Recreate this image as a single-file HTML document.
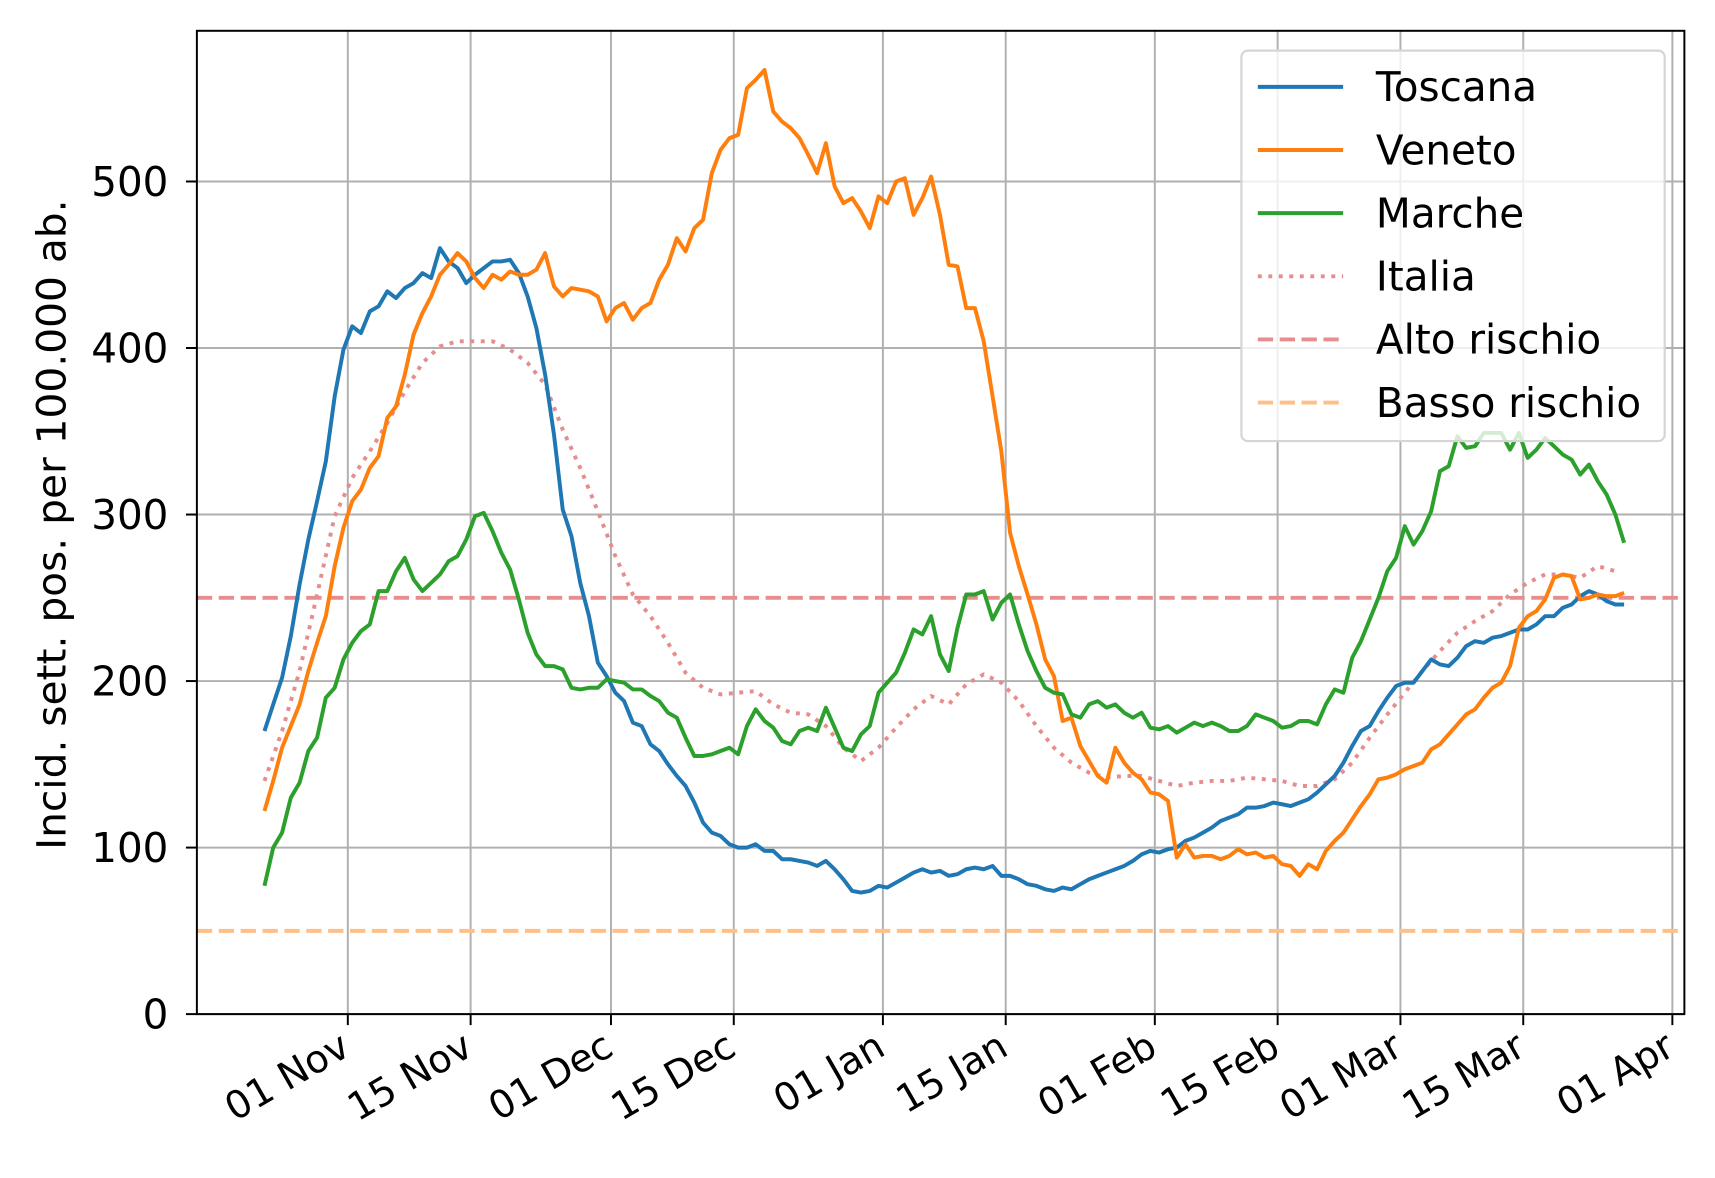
<!DOCTYPE html>
<html><head><meta charset="utf-8"><style>html,body{margin:0;padding:0;background:#fff}svg{display:block}text{font-family:"DejaVu Sans","Liberation Sans",sans-serif}</style></head>
<body>
<svg id="chart" width="1715" height="1178" viewBox="0 0 1568 1071" preserveAspectRatio="none" xmlns="http://www.w3.org/2000/svg"></svg>
<script>
const startDay = -9.5; // first data point, days after 01 Nov
const toscana = [170,186,202,227,258,285,308,332,371,399,413,409,422,425,434,430,436,439,445,442,460,452,448,439,444,448,452,452,453,445,431,412,384,348,303,287,259,239,211,203,193,188,175,173,162,158,150,143,137,127,115,109,107,102,100,100,102,98,98,93,93,92,91,89,92,87,81,74,73,74,77,76,79,82,85,87,85,86,83,84,87,88,87,89,83,83,81,78,77,75,74,76,75,78,81,83,85,87,89,92,96,98,97,99,100,104,106,109,112,116,118,120,124,124,125,127,126,125,127,129,133,138,143,151,161,170,173,182,190,197,199,199,206,213,210,209,214,221,224,223,226,227,229,231,231,234,239,239,244,246,251,254,252,248,246,246];
const veneto = [122,140,160,173,186,206,223,239,269,292,308,315,328,335,358,365,384,408,421,431,444,450,457,452,442,436,444,441,446,444,444,447,457,437,431,436,435,434,431,416,424,427,417,424,427,441,450,466,458,472,477,505,519,526,528,556,561,567,542,536,532,526,516,505,523,497,487,490,482,472,491,487,500,502,480,490,503,480,450,449,424,424,404,371,338,289,269,252,234,213,203,176,178,161,152,143,139,160,151,145,141,133,132,128,94,102,94,95,95,93,95,99,96,97,94,95,90,89,83,90,87,98,104,109,117,125,132,141,142,144,147,149,151,159,162,168,174,180,183,190,196,199,209,232,239,242,249,262,264,263,249,250,252,251,251,253];
const marche = [77,100,109,130,139,158,166,190,196,213,223,230,234,254,254,266,274,261,254,259,264,272,275,285,299,301,290,277,267,249,229,216,209,209,207,196,195,196,196,201,200,199,195,195,191,188,181,178,166,155,155,156,158,160,156,173,183,176,172,164,162,170,172,170,184,172,160,158,168,173,193,199,205,217,231,228,239,216,206,232,252,252,254,237,247,252,234,218,206,196,193,192,180,178,186,188,184,186,181,178,181,172,171,173,169,172,175,173,175,173,170,170,173,180,178,176,172,173,176,176,174,186,195,193,214,224,237,250,266,274,293,282,290,302,326,329,347,340,341,349,349,349,339,349,334,339,346,341,336,333,324,330,320,312,300,283];
const italia = [140,170,206,252,299,322,338,355,374,391,401,404,404,404,399,391,378,351,328,302,275,252,239,223,205,196,192,193,194,186,181,180,173,160,152,160,172,183,191,186,198,204,199,188,173,160,151,145,142,143,143,140,137,139,140,140,142,141,140,137,137,141,151,166,180,193,206,218,229,236,242,252,259,264,264,262,269,266];
const italiaStep = 2;
const altoRischio = 250, bassoRischio = 50;
const yTicks = [0,100,200,300,400,500];
const xTickDays = [0,14,30,44,61,75,92,106,120,134,151];
const xTickLabels = ["01 Nov","15 Nov","01 Dec","15 Dec","01 Jan","15 Jan","01 Feb","15 Feb","01 Mar","15 Mar","01 Apr"];

const L=180,R=1540,T=28,B=922;
const X=d=>318+d*8.02;
const Y=v=>922-v*1.514;
const svg=document.getElementById('chart');
const NS='http://www.w3.org/2000/svg';
function mk(tag,attrs,parent){const e=document.createElementNS(NS,tag);for(const k in attrs)e.setAttribute(k,attrs[k]);(parent||svg).appendChild(e);return e;}

xTickDays.forEach((d,i)=>{
  const g=mk('line',{x1:X(d),x2:X(d),y1:T,y2:B,stroke:'#b0b0b0','stroke-width':1.8});
  
  
  const t=mk('line',{x1:X(d),x2:X(d),y1:B,y2:B+10,stroke:'#000','stroke-width':1.8});
  
  
  const lb=mk('text',{x:0,y:0,'font-size':35,'text-anchor':'end',transform:`translate(${X(d)+4},${B+36}) rotate(-30)`});
  lb.textContent=xTickLabels[i];
  
  
});
yTicks.forEach(v=>{
  const g=mk('line',{x1:L,x2:R,y1:Y(v),y2:Y(v),stroke:'#b0b0b0','stroke-width':1.8});
  
  
  const t=mk('line',{x1:L-10,x2:L,y1:Y(v),y2:Y(v),stroke:'#000','stroke-width':1.8});
  
  
  const lb=mk('text',{x:L-26,y:Y(v)+13,'font-size':37,'text-anchor':'end'});
  lb.textContent=v;
  
  
});
const a=mk('line',{x1:L,x2:R,y1:Y(altoRischio),y2:Y(altoRischio),stroke:'#e88d8d','stroke-width':3.6,'stroke-dasharray':'14,6'});


const b=mk('line',{x1:L,x2:R,y1:Y(bassoRischio),y2:Y(bassoRischio),stroke:'#ffbf86','stroke-width':3.6,'stroke-dasharray':'14,6'});



function series(vals,step,color,name,extra){
  const pts=vals.map((v,i)=>X(startDay+i*step).toFixed(1)+','+Y(v).toFixed(1)).join(' ');
  const p=mk('polyline',Object.assign({points:pts,fill:'none',stroke:color,'stroke-width':3.6,'stroke-linejoin':'round'},extra||{}));
  
  
}
series(italia,italiaStep,'#e88d8d','italia-line',{'stroke-dasharray':'3.6,6'});
series(toscana,1,'#1f77b4','toscana-line');
series(veneto,1,'#ff7f0e','veneto-line');
series(marche,1,'#2ca02c','marche-line');

const sp=mk('rect',{x:L,y:T,width:R-L,height:B-T,fill:'none',stroke:'#000','stroke-width':1.8});



const yt=mk('text',{x:0,y:0,'font-size':37,'text-anchor':'middle',transform:'translate(60,477) rotate(-90)'});
yt.textContent='Incid. sett. pos. per 100.000 ab.';



const lg=mk('g',{});


mk('rect',{x:1135,y:46,width:387,height:355,rx:6,fill:'rgba(255,255,255,0.8)',stroke:'#d5d5d5','stroke-width':2},lg);
const legNames=['Toscana','Veneto','Marche','Italia','Alto rischio','Basso rischio'];
const legColors=['#1f77b4','#ff7f0e','#2ca02c','#e88d8d','#e88d8d','#ffbf86'];
const legDash=[null,null,null,'3.6,6','14,6','14,6'];
legNames.forEach((n,i)=>{
  const y=79+i*57.4;
  const e=mk('g',{},lg);
  
  
  const at={x1:1150,x2:1228,y1:y,y2:y,stroke:legColors[i],'stroke-width':3.6};
  if(legDash[i])at['stroke-dasharray']=legDash[i];
  mk('line',at,e);
  const t=mk('text',{x:1258,y:y+13,'font-size':37},e);
  t.textContent=n;
});
</script>
</body></html>
